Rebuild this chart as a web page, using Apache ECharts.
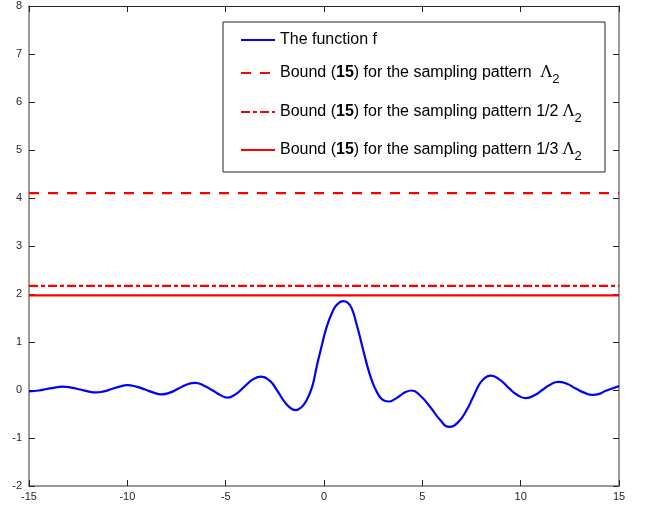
<!DOCTYPE html>
<html><head><meta charset="utf-8">
<script src="https://cdn.jsdelivr.net/npm/echarts@6/dist/echarts.min.js"></script>
<style>html,body{margin:0;padding:0;background:#fff}#c{width:648px;height:509px}</style>
</head><body><div id="c"></div>
<script>
// curve of f: [x, y]
const fX = [-15,-14.5,-14.1,-13.7,-13.3,-12.85,-12.4,-12.0,-11.6,-11.2,-10.8,-10.4,-10.0,-9.55,-9.1,-8.7,-8.25,-7.8,-7.4,-7.0,-6.55,-6.1,-5.7,-5.3,-4.9,-4.5,-4.1,-3.65,-3.2,-2.75,-2.4,-2.07,-1.75,-1.45,-1.15,-0.88,-0.6,-0.37,-0.1,0.14,0.4,0.64,0.97,1.2,1.41,1.65,1.91,2.15,2.42,2.65,2.85,3.05,3.3,3.6,3.86,4.15,4.46,4.9,5.39,5.9,6.35,6.8,7.25,7.6,7.93,8.2,8.47,8.95,9.4,9.85,10.27,10.7,11.1,11.5,11.91,12.35,12.8,13.25,13.66,14.0,14.3,14.65,15];
const fY = [-0.03,-0.01,0.02,0.05,0.07,0.05,0.01,-0.03,-0.05,-0.03,0.02,0.07,0.10,0.07,0.01,-0.05,-0.09,-0.05,0.03,0.11,0.15,0.09,0.0,-0.10,-0.16,-0.09,0.05,0.21,0.28,0.19,0.0,-0.21,-0.36,-0.42,-0.36,-0.21,0.07,0.49,0.95,1.32,1.60,1.77,1.85,1.82,1.70,1.38,0.97,0.58,0.21,-0.01,-0.15,-0.22,-0.24,-0.19,-0.12,-0.04,-0.01,-0.12,-0.35,-0.62,-0.77,-0.68,-0.42,-0.13,0.14,0.26,0.30,0.21,0.04,-0.11,-0.17,-0.11,0.0,0.11,0.17,0.13,0.03,-0.06,-0.10,-0.08,-0.02,0.03,0.08];
const xRange = [-15, 15];
const bounds = [4.1, 2.17, 1.97];
const names = ['f','b1','b2','b3'];
const labels = [
  '{n|The function f}',
  '{n|Bound (}{b|15}{n|) for the sampling pattern  }{l|Λ}{s|2}',
  '{n|Bound (}{b|15}{n|) for the sampling pattern 1/2 }{l|Λ}{s|2}',
  '{n|Bound (}{b|15}{n|) for the sampling pattern 1/3 }{l|Λ}{s|2}'
];

const chart = echarts.init(document.getElementById('c'));
const axisCol = '#262626';
const rich = {
  n: {fontFamily: 'Liberation Sans, Arial', fontSize: 16, color: '#000'},
  b: {fontFamily: 'Liberation Sans, Arial', fontSize: 16, fontWeight: 'bold', color: '#000'},
  l: {fontFamily: 'DejaVu Serif, serif', fontSize: 16, color: '#000'},
  s: {fontFamily: 'Liberation Sans, Arial', fontSize: 13, color: '#000', padding: [13,0,0,0]}
};
const legendTops = [32, 65, 104, 142];
const legends = names.map((nm, i) => ({
  data: [nm], left: 240, top: legendTops[i], padding: 0, itemWidth: 34, itemHeight: 14, itemGap: 5,
  formatter: () => labels[i], textStyle: {rich: rich},
  itemStyle: {opacity: 0},
  selectedMode: false
}));
const styles = [
  {color: '#0000ff', type: 'solid'},
  {color: '#ff0000', type: [10, 9]},
  {color: '#ff0000', type: [9, 3, 4, 3]},
  {color: '#ff0000', type: 'solid'}
];
const series = [{
  name: 'f', type: 'line', smooth: 0.5, symbol: 'none',
  lineStyle: {color: styles[0].color, width: 2.2},
  itemStyle: {color: styles[0].color},
  data: fX.map((x, i) => [x, fY[i]]), z: 3
}];
bounds.forEach((b, i) => series.push({
  name: names[i+1], type: 'line', symbol: 'none',
  lineStyle: {color: styles[i+1].color, width: 2.3, type: styles[i+1].type},
  itemStyle: {color: styles[i+1].color},
  data: [[xRange[0], b], [xRange[1], b]], z: 2
}));
const lbl = {color: axisCol, fontSize: 11, fontFamily: 'Liberation Sans, Arial'};
chart.setOption({
  animation: false,
  grid: {left: 29, right: 29, top: 6, bottom: 23, containLabel: false},
  legend: legends,
  graphic: [{type: 'rect', shape: {x: 223, y: 22, width: 382, height: 150}, style: {fill: 'rgba(0,0,0,0)', stroke: '#262626', lineWidth: 1}, z: 10}],
  xAxis: [
    {type: 'value', min: -15, max: 15, interval: 5, position: 'bottom',
     axisLine: {onZero: false, lineStyle: {color: '#7a7a7a', width: 1.5}},
     axisTick: {inside: true, length: 6, lineStyle: {color: axisCol}},
     axisLabel: Object.assign({margin: 5}, lbl), splitLine: {show: false}},
    {type: 'value', min: -15, max: 15, interval: 5, position: 'top',
     axisLine: {onZero: false, lineStyle: {color: axisCol, width: 1}},
     axisTick: {inside: true, length: 6, lineStyle: {color: axisCol}},
     axisLabel: {show: false}, splitLine: {show: false}}
  ],
  yAxis: [
    {type: 'value', min: -2, max: 8, interval: 1, position: 'left',
     axisLine: {show: true, onZero: false, lineStyle: {color: '#7a7a7a', width: 1.5}},
     axisTick: {show: true, inside: true, length: 6, lineStyle: {color: axisCol}},
     axisLabel: Object.assign({margin: 7}, lbl), splitLine: {show: false}},
    {type: 'value', min: -2, max: 8, interval: 1, position: 'right',
     axisLine: {show: true, onZero: false, lineStyle: {color: '#7a7a7a', width: 1.5}},
     axisTick: {show: true, inside: true, length: 6, lineStyle: {color: axisCol}},
     axisLabel: {show: false}, splitLine: {show: false}}
  ],
  series: series
});
</script></body></html>
